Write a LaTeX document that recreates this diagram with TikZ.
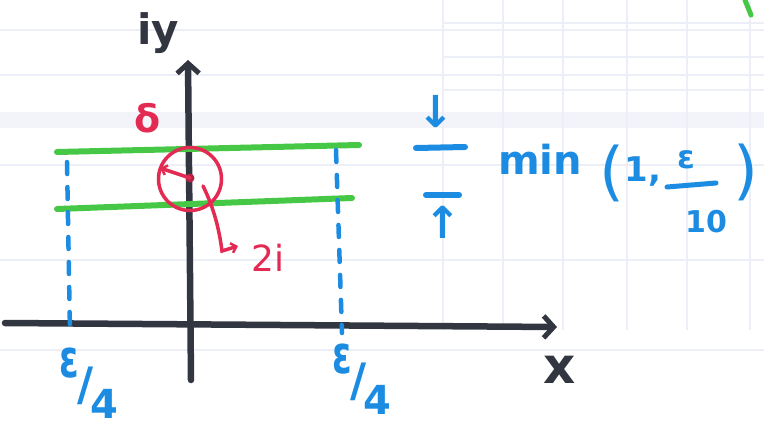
\documentclass[tikz,border=0pt]{standalone}
\usepackage{fontspec}
\setmainfont{DejaVu Sans}
\usetikzlibrary{arrows.meta}
\definecolor{inkblack}{RGB}{50,54,64}
\definecolor{inkgreen}{RGB}{70,200,70}
\definecolor{inkblue}{RGB}{28,140,226}
\definecolor{inkred}{RGB}{226,42,82}
\definecolor{paperline}{RGB}{236,239,247}
\tikzset{
  axis/.style={draw=inkblack, line width=6.5pt, line cap=round,
    -{Straight Barb[length=10pt,width=22pt,line width=5pt]}},
  greenpen/.style={draw=inkgreen, line width=6pt, line cap=round},
  bluedash/.style={draw=inkblue, line width=4.5pt, dash pattern=on 12pt off 13pt, line cap=round},
  bluepen/.style={draw=inkblue, line width=5pt, line cap=round},
  redpen/.style={draw=inkred, line width=3.5pt, line cap=round},
  paper/.style={draw=paperline, line width=1.2pt},
  bluetext/.style={text=inkblue, inner sep=0pt},
  redtext/.style={text=inkred, inner sep=0pt},
  blacktext/.style={text=inkblack, inner sep=0pt},
}
\newcommand{\penfont}[1]{\fontsize{#1}{#1}\selectfont\bfseries}
\newcommand{\epsquarter}{%
  \raisebox{23pt}{\fontsize{44}{44}\selectfont\scalebox{0.8}[1.2]{ε}}%
  \kern-1pt\scalebox{1.1}[1.15]{/}\kern-3pt%
  \raisebox{-18pt}{4}}
\begin{document}
\begin{tikzpicture}[x=1pt,y=-1pt]
\useasboundingbox (0,0) rectangle (764,429);
\fill[white] (0,0) rectangle (764,429);
% faint squared paper
\foreach \yy in {30,75,165,260,350} {\draw[paper] (0,\yy) -- (764,\yy);}
\fill[paperline!70] (0,112) rectangle (764,128);
\foreach \xx in {443,503,563,627,687,750} {\draw[paper] (\xx,0) -- (\xx,330);}
\foreach \yy in {23,57,90} {\draw[paper] (443,\yy) -- (764,\yy);}

% axes
\coordinate (xs) at (5,323);
\coordinate (xe) at (557,327);
\coordinate (ys) at (191,380);
\coordinate (ye) at (188,60);
\draw[axis] (xs) -- (xe);
\draw[axis] (ys) -- (ye);
\node[blacktext, font=\penfont{42}] (ylab) at (158,33) {iy};
\node[blacktext, font=\penfont{50}] (xlab) at (560,370) {x};

% green strip lines
\coordinate (g1a) at (57,152); \coordinate (g1b) at (359,145);
\coordinate (g2a) at (57,209); \coordinate (g2b) at (352,198);
\draw[greenpen] (g1a) -- (g1b);
\draw[greenpen] (g2a) -- (g2b);

% blue dashed verticals
\coordinate (bl1) at (67,162); \coordinate (bl2) at (70,333);
\coordinate (br1) at (336,150); \coordinate (br2) at (342,333);
\draw[bluedash] (bl1) -- (bl2);
\draw[bluedash] (br1) -- (br2);
\node[bluetext, font=\penfont{40}, anchor=base west] (epsl) at (59,400) {\epsquarter};
\node[bluetext, font=\penfont{40}, anchor=base west] (epsr) at (332,396) {\epsquarter};

% red disc
\node[draw=inkred, line width=3.5pt, circle, minimum size=63pt, inner sep=0pt] (disc) at (190,179) {};
\coordinate (ctr) at (190,178);
\fill[inkred!80!black] (ctr) circle (4.5pt);
\coordinate (redge) at (160,168);
\draw[redpen, -{Straight Barb[length=5pt,width=10pt,line width=2.5pt]}] (ctr) -- (redge);
\node[redtext, font=\penfont{38}] (delta) at (148,118) {δ};
\coordinate (hs) at (203,186);
\coordinate (he) at (238,246);
\draw[redpen, -{Straight Barb[length=5pt,width=10pt,line width=2.5pt]}]
  (hs) .. controls (216,212) and (220,236) .. (222,251) -- (he);
\node[redtext, font=\penfont{36}\mdseries] (twoi) at (268,258) {2i};

% formula
\node[bluetext, font=\penfont{44}] (darr) at (436,112) {↓};
\coordinate (bar1a) at (416,148); \coordinate (bar1b) at (465,147);
\draw[bluepen, line width=6pt] (bar1a) -- (bar1b);
\coordinate (bar2a) at (426,195); \coordinate (bar2b) at (459,195);
\draw[bluepen, line width=6pt] (bar2a) -- (bar2b);
\node[bluetext, font=\penfont{44}] (uarr) at (443,222) {↑};
\node[bluetext, font=\penfont{40}, anchor=base] (minw) at (540,174) {min};
\node[bluetext, font=\penfont{64}\mdseries] (lpar) at (612,173) {(};
\node[bluetext, font=\penfont{34}, anchor=base] (one) at (643,181) {1,};
\node[bluetext, font=\penfont{32}] (epsf) at (686,160) {ε};
\coordinate (bar3a) at (667,187); \coordinate (bar3b) at (716,183);
\draw[bluepen] (bar3a) -- (bar3b);
\node[bluetext, font=\penfont{30}] (ten) at (706,222) {10};
\node[bluetext, font=\penfont{64}\mdseries] (rpar) at (746,172) {)};

% green pen mark at top right
\coordinate (gm1) at (745,0); \coordinate (gm2) at (751,15);
\draw[greenpen, line width=5pt] (gm1) -- (gm2);
\end{tikzpicture}
\end{document}
